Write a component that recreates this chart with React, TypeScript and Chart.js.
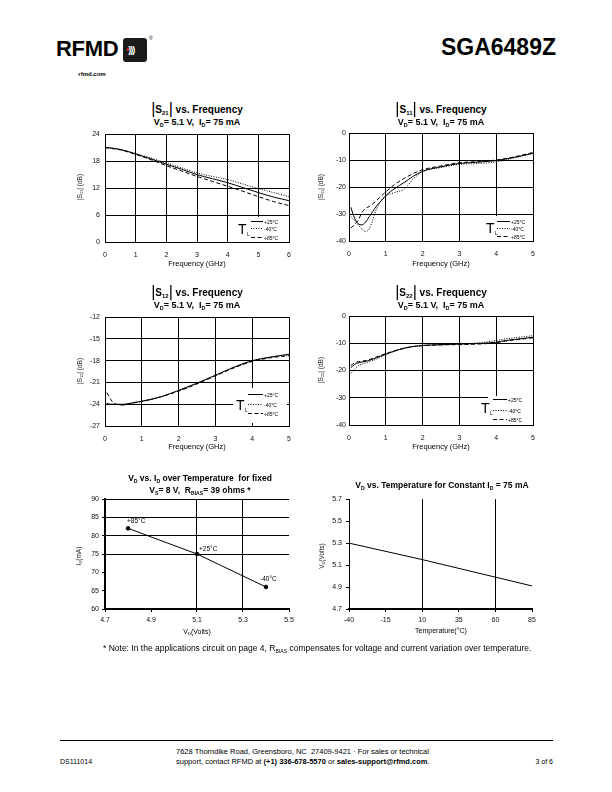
import React, { useEffect, useRef } from "react";
import { Chart, registerables } from "chart.js";
Chart.register(...registerables);

const FONT = '"Liberation Sans", Arial, Helvetica, sans-serif';

// ---------------- data ----------------
const TEMP_LABELS = ["+25°C", "-40°C", "+85°C"];

const S21_FREQ = [0, 0.5, 1, 1.5, 2, 2.5, 3, 3.5, 4, 4.5, 5, 5.5, 6];
const S21_P25 = [21.1, 20.6, 19.6, 18.5, 17.3, 16.2, 15.0, 14.1, 13.2, 12.1, 11.0, 10.0, 9.2];
const S21_M40 = [21.1, 20.6, 19.7, 18.7, 17.6, 16.5, 15.4, 14.6, 13.9, 12.9, 11.9, 11.0, 10.1];
const S21_P85 = [21.0, 20.5, 19.5, 18.3, 17.0, 15.8, 14.6, 13.5, 12.4, 11.3, 10.1, 9.0, 8.1];

const S11_FREQ = [0.05, 0.15, 0.25, 0.35, 0.45, 0.55, 0.65, 0.75, 0.9, 1.0, 1.25, 1.5, 1.75, 2.0, 2.5, 3.0, 3.5, 4.0, 4.5, 5.0];
const S11_P25 = [-27.5, -31.5, -33.6, -34.0, -33.0, -31.0, -29.0, -27.0, -24.8, -23.2, -20.5, -18.3, -16.0, -14.2, -12.5, -11.3, -10.8, -10.2, -9.0, -7.5];
const S11_M40 = [-31.0, -32.5, -34.0, -35.5, -36.5, -35.5, -32.0, -28.0, -24.5, -23.3, -22.0, -20.8, -17.0, -14.3, -12.8, -11.6, -11.3, -10.7, -9.2, -7.6];
const S11_P85 = [-35.2, -34.0, -32.3, -29.5, -28.0, -27.2, -26.2, -25.0, -23.0, -21.8, -19.0, -16.8, -15.0, -13.6, -12.2, -11.0, -10.6, -10.0, -8.8, -7.2];

const S12_FREQ = [0.05, 0.15, 0.25, 0.5, 0.75, 1.0, 1.5, 2.0, 2.5, 3.0, 3.5, 4.0, 4.5, 5.0];
const S12_P25 = [-23.9, -24.0, -24.0, -24.0, -23.8, -23.6, -23.0, -22.1, -21.1, -20.0, -18.9, -18.0, -17.5, -17.1];
const S12_M40 = [-23.9, -24.0, -24.0, -24.1, -23.9, -23.6, -23.0, -22.1, -21.1, -20.0, -18.9, -18.0, -17.5, -17.2];
const S12_P85 = [-22.4, -23.3, -23.9, -24.1, -23.8, -23.6, -23.0, -22.2, -21.2, -20.1, -19.0, -18.1, -17.6, -17.3];

const S22_FREQ = [0.05, 0.15, 0.25, 0.5, 0.75, 1.0, 1.25, 1.5, 1.75, 2.0, 2.5, 3.0, 3.5, 4.0, 4.25, 4.5, 5.0];
const S22_P25 = [-19.0, -17.8, -17.2, -16.5, -15.3, -14.0, -12.8, -11.8, -11.2, -10.8, -10.5, -10.3, -10.1, -9.6, -9.0, -8.6, -7.8];
const S22_M40 = [-21.0, -19.5, -18.3, -17.0, -15.8, -14.2, -12.9, -11.9, -11.2, -10.8, -10.6, -10.2, -9.9, -9.0, -8.4, -8.0, -7.2];
const S22_P85 = [-18.2, -17.2, -16.8, -16.2, -15.0, -13.8, -12.7, -11.8, -11.2, -10.9, -10.6, -10.5, -10.3, -9.8, -9.2, -8.8, -8.0];

const VD_VOLTS = [4.8, 5.1, 5.4];
const ID_MA = [82, 75, 66];
const VDID_LABELS = ["+85°C", "+25°C", "-40°C"];

const TEMP_C = [-40, 10, 60, 85];
const VD_AT_75MA = [5.3, 5.15, 4.99, 4.91];

// axis ranges / tick steps
const S21_X = { min: 0, max: 6, step: 1 };
const S21_Y = { min: 0, max: 24, step: 6 };
const S11_X = { min: 0, max: 5, step: 1 };
const S11_Y = { min: -40, max: 0, step: 10 };
const S12_X = { min: 0, max: 5, step: 1 };
const S12_Y = { min: -27, max: -12, step: 3 };
const S22_X = { min: 0, max: 5, step: 1 };
const S22_Y = { min: -40, max: 0, step: 10 };
const VDID_X = { min: 4.7, max: 5.5, step: 0.2 };
const VDID_Y = { min: 60, max: 90, step: 5 };
const VDT_X = { min: -40, max: 85, step: 25 };
const VDT_Y = { min: 4.7, max: 5.7, step: 0.2 };

// ---------------- styles ----------------
const DASHES = [[], [1, 1.5], [4, 2.5]];
const PAD = { l: 45, r: 12, t: 8, b: 30 };
const PT_LABEL_OFFSETS = [[-1, -5], [2, -3], [-6, -6]];

type Plot = { l: number; t: number; r: number; b: number };
type LegendSpec = { box: number[]; t: number[]; s: number[]; lab: number; rows: number[] };

const tickFont = { family: FONT, size: 7 };

function legendPlugin(lg: LegendSpec) {
  return {
    id: "tlegend",
    afterDatasetsDraw(chart: any) {
      const { ctx, chartArea: a } = chart;
      const R = a.right;
      const B = a.bottom;
      ctx.save();
      ctx.fillStyle = "#fff";
      ctx.fillRect(R + lg.box[0], B + lg.box[1], lg.box[2], lg.box[3]);
      ctx.fillStyle = "#000";
      ctx.textBaseline = "alphabetic";
      ctx.textAlign = "left";
      ctx.font = `14px ${FONT}`;
      ctx.fillText("T", R + lg.t[0], B + lg.t[1]);
      ctx.font = `5px ${FONT}`;
      ctx.fillText("L", R + lg.t[0] + 9, B + lg.t[1] + 2);
      ctx.strokeStyle = "#000";
      ctx.lineWidth = 1;
      chart.data.datasets.forEach((ds: any, i: number) => {
        const y = Math.round(B + lg.rows[i]) + 0.5;
        ctx.beginPath();
        ctx.setLineDash(ds.borderDash || []);
        ctx.moveTo(R + lg.s[0], y);
        ctx.lineTo(R + lg.s[1], y);
        ctx.stroke();
        ctx.setLineDash([]);
        ctx.font = `5px ${FONT}`;
        ctx.fillText(ds.label, R + lg.lab, y + 2);
      });
      ctx.restore();
    },
  };
}

function freqConfig(xs: number[], series: number[][], X: any, Y: any, lg: LegendSpec, yPad: number) {
  return {
    type: "line",
    data: {
      datasets: series.map((d, i) => ({
        label: TEMP_LABELS[i],
        data: xs.map((xv, j) => ({ x: xv, y: d[j] })),
        borderColor: "#000",
        borderWidth: 1,
        borderDash: DASHES[i],
        pointRadius: 0,
        cubicInterpolationMode: "monotone",
        fill: false,
      })),
    },
    options: {
      responsive: false,
      animation: false,
      devicePixelRatio: 1,
      layout: { padding: { top: PAD.t, right: PAD.r, left: 0, bottom: 0 } },
      plugins: { legend: { display: false }, tooltip: { enabled: false }, title: { display: false } },
      scales: {
        x: {
          type: "linear",
          min: X.min,
          max: X.max,
          afterFit: (s: any) => { s.height = PAD.b; },
          ticks: { stepSize: X.step, font: tickFont, color: "#111", padding: 9, maxRotation: 0, autoSkip: false },
          grid: { color: "#000", lineWidth: 1, drawTicks: false },
          border: { display: true, color: "#000", width: 1 },
        },
        y: {
          type: "linear",
          min: Y.min,
          max: Y.max,
          afterFit: (s: any) => { s.width = PAD.l; },
          ticks: { stepSize: Y.step, font: tickFont, color: "#111", padding: yPad, autoSkip: false },
          grid: { color: "#000", lineWidth: 1, drawTicks: false },
          border: { display: true, color: "#000", width: 1 },
        },
      },
    },
    plugins: [legendPlugin(lg)],
  };
}

const near = (v: number, arr: number[]) => arr.some((a) => Math.abs(a - v) < 1e-6);

function vdIdConfig() {
  return {
    type: "line",
    data: {
      datasets: [
        {
          label: "ID",
          data: VD_VOLTS.map((x, i) => ({ x, y: ID_MA[i] })),
          borderColor: "#000",
          borderWidth: 1,
          pointRadius: 1.8,
          pointBackgroundColor: "#000",
          pointBorderColor: "#000",
          tension: 0,
        },
      ],
    },
    options: {
      responsive: false,
      animation: false,
      devicePixelRatio: 1,
      layout: { padding: { top: PAD.t, right: PAD.r, left: 0, bottom: 0 } },
      plugins: { legend: { display: false }, tooltip: { enabled: false } },
      scales: {
        x: {
          type: "linear",
          min: VDID_X.min,
          max: VDID_X.max,
          afterFit: (s: any) => { s.height = PAD.b; },
          ticks: { stepSize: VDID_X.step, font: tickFont, color: "#111", padding: 4, maxRotation: 0, autoSkip: false, callback: (v: number) => v.toFixed(1) },
          grid: {
            color: (c: any) => (c.tick && near(c.tick.value, [5.1, 5.3]) ? "#000" : "rgba(0,0,0,0)"),
            tickColor: "#000",
            tickLength: 3,
            lineWidth: 1,
          },
          border: { display: true, color: "#000", width: 2 },
        },
        y: {
          type: "linear",
          min: VDID_Y.min,
          max: VDID_Y.max,
          afterFit: (s: any) => { s.width = PAD.l; },
          ticks: { stepSize: VDID_Y.step, font: tickFont, color: "#111", padding: 3, autoSkip: false },
          grid: {
            color: (c: any) => (c.tick && near(c.tick.value, [75, 80, 85, 90]) ? "#000" : "rgba(0,0,0,0)"),
            tickColor: "#000",
            tickLength: 3,
            lineWidth: 1,
          },
          border: { display: true, color: "#000", width: 2 },
        },
      },
    },
    plugins: [
      {
        id: "ptlabels",
        afterDatasetsDraw(chart: any) {
          const { ctx } = chart;
          const meta = chart.getDatasetMeta(0);
          ctx.save();
          ctx.fillStyle = "#000";
          ctx.font = `6.5px ${FONT}`;
          ctx.textBaseline = "alphabetic";
          meta.data.forEach((el: any, i: number) => {
            const [dx, dy] = PT_LABEL_OFFSETS[i];
            ctx.fillText(VDID_LABELS[i], el.x + dx, el.y + dy);
          });
          ctx.restore();
        },
      },
    ],
  };
}

function vdTempConfig() {
  return {
    type: "line",
    data: {
      datasets: [
        {
          label: "VD",
          data: TEMP_C.map((x, i) => ({ x, y: VD_AT_75MA[i] })),
          borderColor: "#000",
          borderWidth: 1,
          pointRadius: 0,
          tension: 0,
        },
      ],
    },
    options: {
      responsive: false,
      animation: false,
      devicePixelRatio: 1,
      layout: { padding: { top: PAD.t, right: PAD.r, left: 0, bottom: 0 } },
      plugins: { legend: { display: false }, tooltip: { enabled: false } },
      scales: {
        x: {
          type: "linear",
          min: VDT_X.min,
          max: VDT_X.max,
          afterFit: (s: any) => { s.height = PAD.b; },
          ticks: { stepSize: VDT_X.step, font: tickFont, color: "#111", padding: 4, maxRotation: 0, autoSkip: false },
          grid: {
            color: (c: any) => (c.tick && near(c.tick.value, [10, 60]) ? "#000" : "rgba(0,0,0,0)"),
            tickColor: "#000",
            tickLength: 3,
            lineWidth: 1,
          },
          border: { display: true, color: "#000", width: 2 },
        },
        y: {
          type: "linear",
          min: VDT_Y.min,
          max: VDT_Y.max,
          afterFit: (s: any) => { s.width = PAD.l; },
          ticks: { stepSize: VDT_Y.step, font: tickFont, color: "#111", padding: 4, autoSkip: false, callback: (v: number) => v.toFixed(1) },
          grid: { color: "rgba(0,0,0,0)", tickColor: "#000", tickLength: 3, lineWidth: 1 },
          border: { display: true, color: "#000", width: 1 },
        },
      },
    },
  };
}

function ChartBox({ plot, build }: { plot: Plot; build: () => any }) {
  const ref = useRef<HTMLCanvasElement>(null);
  const w = plot.r - plot.l + PAD.l + PAD.r;
  const h = plot.b - plot.t + PAD.t + PAD.b;
  useEffect(() => {
    const chart = new Chart(ref.current as HTMLCanvasElement, build() as any);
    return () => chart.destroy();
  }, []);
  return (
    <canvas
      ref={ref}
      width={w}
      height={h}
      style={{ position: "absolute", left: plot.l - PAD.l, top: plot.t - PAD.t, width: w, height: h }}
    />
  );
}

// ---------------- text helpers ----------------
function Txt(p: { x: number; y: number; size: number; align?: "left" | "center" | "right"; bold?: boolean; w?: number; color?: string; children: any; style?: any }) {
  const w = p.w ?? 300;
  const align = p.align ?? "left";
  const left = align === "center" ? p.x - w / 2 : align === "right" ? p.x - w : p.x;
  return (
    <div
      style={{
        position: "absolute",
        left,
        top: p.y - p.size * 0.52,
        width: w,
        textAlign: align,
        fontSize: p.size,
        lineHeight: `${p.size}px`,
        fontWeight: p.bold ? 700 : 400,
        color: p.color ?? "#000",
        whiteSpace: "nowrap",
        fontFamily: FONT,
        ...(p.style || {}),
      }}
    >
      {p.children}
    </div>
  );
}

function VTxt(p: { x: number; y: number; size: number; children: any; color?: string }) {
  return (
    <div
      style={{
        position: "absolute",
        left: p.x - 60,
        top: p.y - 6,
        width: 120,
        height: 12,
        lineHeight: "12px",
        textAlign: "center",
        fontSize: p.size,
        fontFamily: FONT,
        color: p.color ?? "#222",
        whiteSpace: "nowrap",
        transform: "rotate(-90deg)",
      }}
    >
      {p.children}
    </div>
  );
}

const Sub = ({ children }: { children: any }) => (
  <span style={{ fontSize: "0.6em", verticalAlign: "-0.3em", lineHeight: 0 }}>{children}</span>
);
const Bar = () => <span style={{ fontWeight: 400, fontSize: 16, lineHeight: 0, position: "relative", top: 1 }}>|</span>;

function SParamTitle({ cx, y, idx }: { cx: number; y: number; idx: string }) {
  return (
    <>
      <Txt x={cx} y={y} size={10} bold align="center">
        <Bar />S<Sub>{idx}</Sub><Bar /> vs. Frequency
      </Txt>
      <Txt x={cx} y={y + 12.5} size={9} bold align="center">
        V<Sub>D</Sub>= 5.1 V,&nbsp; I<Sub>D</Sub>= 75 mA
      </Txt>
    </>
  );
}

const P1: Plot = { l: 105, t: 133, r: 289, b: 242 };
const P2: Plot = { l: 349, t: 133, r: 533, b: 241 };
const P3: Plot = { l: 105, t: 316, r: 289, b: 426 };
const P4: Plot = { l: 349, t: 316, r: 533, b: 425 };
const P5: Plot = { l: 105, t: 499, r: 289, b: 609 };
const P6: Plot = { l: 349, t: 499, r: 532, b: 609 };

const LG1: LegendSpec = { box: [-55, -25, 55, 25], t: [-51, -8], s: [-38, -26], lab: -25, rows: [-21, -14, -5] };
const LG2: LegendSpec = { box: [-42, -25, 42, 25], t: [-47, -8], s: [-36, -23], lab: -22, rows: [-20, -13, -5] };
const LG3: LegendSpec = { box: [-56, -38, 54, 35], t: [-53, -16], s: [-41, -26], lab: -25, rows: [-32, -22, -13] };
const LG4: LegendSpec = { box: [-45, -29, 45, 29], t: [-52, -12], s: [-40, -26], lab: -25, rows: [-26, -15, -6] };

export default function App() {
  return (
    <div
      style={{
        position: "absolute",
        left: 0,
        top: 0,
        width: 612,
        height: 792,
        background: "#fff",
        overflow: "hidden",
        fontFamily: FONT,
        color: "#000",
      }}
    >
      {/* header */}
      <Txt x={56} y={49} size={22} bold style={{ letterSpacing: -0.3 }}>RFMD</Txt>
      <div style={{ position: "absolute", left: 123, top: 38, width: 24, height: 24, background: "#1a1a1a", borderRadius: 3 }}>
        <div style={{ position: "absolute", left: 3, top: 6, fontSize: 9, lineHeight: "12px", fontWeight: 700, color: "#fff", fontFamily: FONT, letterSpacing: -1 }}>
          <span style={{ color: "#e0202a" }}>•</span>)))
        </div>
      </div>
      <Txt x={149} y={39} size={5}>®</Txt>
      <Txt x={92} y={74} size={6} bold align="center" w={60}>rfmd.com</Txt>
      <Txt x={556} y={48} size={23} bold align="right">SGA6489Z</Txt>

      {/* S21 */}
      <SParamTitle cx={197} y={110} idx="21" />
      <ChartBox plot={P1} build={() => freqConfig(S21_FREQ, [S21_P25, S21_M40, S21_P85], S21_X, S21_Y, LG1, 5)} />
      <VTxt x={80} y={187} size={6.5}>|S<Sub>21</Sub>| (dB)</VTxt>
      <Txt x={197} y={264} size={7.5} align="center" w={120}>Frequency (GHz)</Txt>

      {/* S11 */}
      <SParamTitle cx={441} y={110} idx="11" />
      <ChartBox plot={P2} build={() => freqConfig(S11_FREQ, [S11_P25, S11_M40, S11_P85], S11_X, S11_Y, LG2, 3)} />
      <VTxt x={321} y={187} size={6.5}>|S<Sub>11</Sub>| (dB)</VTxt>
      <Txt x={441} y={264} size={7.5} align="center" w={120}>Frequency (GHz)</Txt>

      {/* S12 */}
      <SParamTitle cx={197} y={293} idx="12" />
      <ChartBox plot={P3} build={() => freqConfig(S12_FREQ, [S12_P25, S12_M40, S12_P85], S12_X, S12_Y, LG3, 5)} />
      <VTxt x={80} y={371} size={6.5}>|S<Sub>12</Sub>| (dB)</VTxt>
      <Txt x={197} y={447} size={7.5} align="center" w={120}>Frequency (GHz)</Txt>

      {/* S22 */}
      <SParamTitle cx={441} y={293} idx="22" />
      <ChartBox plot={P4} build={() => freqConfig(S22_FREQ, [S22_P25, S22_M40, S22_P85], S22_X, S22_Y, LG4, 3)} />
      <VTxt x={321} y={370} size={6.5}>|S<Sub>22</Sub>| (dB)</VTxt>
      <Txt x={441} y={447} size={7.5} align="center" w={120}>Frequency (GHz)</Txt>

      {/* VD vs ID */}
      <Txt x={200} y={478} size={8.5} bold align="center">
        V<Sub>D</Sub> vs. I<Sub>D</Sub> over Temperature&nbsp; for fixed
      </Txt>
      <Txt x={200} y={490} size={8.5} bold align="center">
        V<Sub>S</Sub>= 8 V,&nbsp; R<Sub>BIAS</Sub>= 39 ohms *
      </Txt>
      <ChartBox plot={P5} build={vdIdConfig} />
      <VTxt x={79} y={556} size={6.5}>I<Sub>D</Sub>(mA)</VTxt>
      <Txt x={197} y={632} size={7} align="center" w={120}>V<Sub>D</Sub>(Volts)</Txt>

      {/* VD vs Temperature */}
      <Txt x={442} y={485} size={8.5} bold align="center">
        V<Sub>D</Sub> vs. Temperature for Constant I<Sub>D</Sub> = 75 mA
      </Txt>
      <ChartBox plot={P6} build={vdTempConfig} />
      <VTxt x={322} y={556} size={6.5}>V<Sub>D</Sub>(Volts)</VTxt>
      <Txt x={441} y={631} size={7} align="center" w={120}>Temperature(°C)</Txt>

      {/* note */}
      <Txt x={103} y={648} size={8.5}>
        * Note: In the applications circuit on page 4, R<Sub>BIAS</Sub> compensates for voltage and current variation over temperature.
      </Txt>

      {/* footer */}
      <div style={{ position: "absolute", left: 60, top: 740, width: 493, height: 1, background: "#000" }} />
      <Txt x={60} y={762} size={7}>DS111014</Txt>
      <Txt x={176} y={752} size={7.5}>7628 Thorndike Road, Greensboro, NC&nbsp; 27409-9421 · For sales or technical</Txt>
      <Txt x={176} y={762} size={7.5}>
        support, contact RFMD at <b>(+1) 336-678-5570</b> or <b>sales-support@rfmd.com</b>.
      </Txt>
      <Txt x={553} y={762} size={7} align="right" w={60}>3 of 6</Txt>
    </div>
  );
}
